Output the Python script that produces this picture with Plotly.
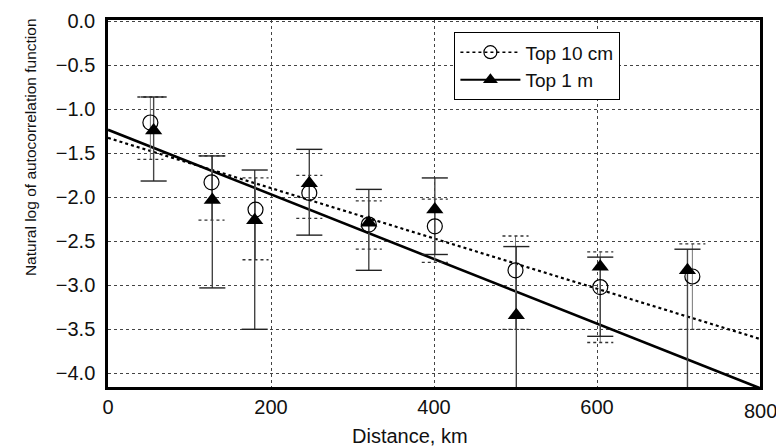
import plotly.graph_objects as go

# ---- data ----
dist_10cm = [52, 127, 181, 247, 320, 401, 500, 604, 717]
ln_10cm = [-1.15, -1.83, -2.14, -1.95, -2.31, -2.33, -2.83, -3.02, -2.90]
hi_10cm = [-0.86, -1.53, -1.78, -1.75, -2.04, -2.02, -2.44, -2.62, -2.53]
lo_10cm = [-1.57, -2.26, -2.71, -2.24, -2.59, -2.74, -3.50, -3.65, -3.50]

dist_1m = [56, 128, 180, 247, 320, 401, 501, 604, 711]
ln_1m = [-1.24, -2.03, -2.26, -1.84, -2.29, -2.14, -3.34, -2.79, -2.83]
hi_1m = [-0.86, -1.53, -1.69, -1.455, -1.91, -1.78, -2.56, -2.68, -2.59]
lo_1m = [-1.815, -3.03, -3.50, -2.43, -2.83, -2.65, -4.60, -3.58, -4.60]

fit_x = [0, 800]
fit_10cm = [-1.325, -3.61]
fit_1m = [-1.233, -4.17]

x_ticks = [0, 200, 400, 600, 800]
y_ticks = [0.0, -0.5, -1.0, -1.5, -2.0, -2.5, -3.0, -3.5, -4.0]

CAP = 16  # half cap width, km

fig = go.Figure()

# trend lines
fig.add_trace(go.Scatter(x=fit_x, y=fit_10cm, mode="lines",
                         line=dict(color="black", width=2.2, dash="dot"),
                         showlegend=False, hoverinfo="skip"))
fig.add_trace(go.Scatter(x=fit_x, y=fit_1m, mode="lines",
                         line=dict(color="black", width=2.6),
                         showlegend=False, hoverinfo="skip"))

# 10 cm error bars: thin grey stems with dotted caps
stem_x, stem_y, cap_x, cap_y = [], [], [], []
for xv, h, l in zip(dist_10cm, hi_10cm, lo_10cm):
    stem_x += [xv, xv, None]
    stem_y += [h, l, None]
    cap_x += [xv - CAP, xv + CAP, None, xv - CAP, xv + CAP, None]
    cap_y += [h, h, None, l, l, None]
fig.add_trace(go.Scatter(x=stem_x, y=stem_y, mode="lines",
                         line=dict(color="#777", width=1),
                         showlegend=False, hoverinfo="skip"))
fig.add_trace(go.Scatter(x=cap_x, y=cap_y, mode="lines",
                         line=dict(color="#333", width=1.3, dash="dot"),
                         showlegend=False, hoverinfo="skip"))

# 1 m error bars: solid stems and caps
stem_x, stem_y, cap_x, cap_y = [], [], [], []
for xv, h, l in zip(dist_1m, hi_1m, lo_1m):
    stem_x += [xv, xv, None]
    stem_y += [h, l, None]
    cap_x += [xv - CAP, xv + CAP, None, xv - CAP, xv + CAP, None]
    cap_y += [h, h, None, l, l, None]
fig.add_trace(go.Scatter(x=stem_x, y=stem_y, mode="lines",
                         line=dict(color="#444", width=1.4),
                         showlegend=False, hoverinfo="skip"))
fig.add_trace(go.Scatter(x=cap_x, y=cap_y, mode="lines",
                         line=dict(color="#222", width=1.4),
                         showlegend=False, hoverinfo="skip"))

# points
fig.add_trace(go.Scatter(x=dist_10cm, y=ln_10cm, mode="markers",
                         marker=dict(symbol="circle-open", size=15,
                                     color="black", line=dict(width=1.2)),
                         showlegend=False))
fig.add_trace(go.Scatter(x=dist_1m, y=ln_1m, mode="markers",
                         marker=dict(symbol="triangle-up", size=15, color="black"),
                         showlegend=False))

# legend entries
fig.add_trace(go.Scatter(x=[None], y=[None], mode="lines+markers", name="Top 10 cm",
                         line=dict(color="black", width=1.5, dash="dot"),
                         marker=dict(symbol="circle-open", size=13, color="black",
                                     line=dict(width=1.2))))
fig.add_trace(go.Scatter(x=[None], y=[None], mode="lines+markers", name="Top 1 m",
                         line=dict(color="black", width=2),
                         marker=dict(symbol="triangle-up", size=13, color="black")))

font_family = "Liberation Sans, Arial, sans-serif"

# the last x tick label sits on the page edge (partly cut off, as in the
# reference), so it is drawn as an annotation at x=800 on the axis scale
annotations = [
    dict(text="Natural log of autocorrelation function", textangle=-90,
         xref="paper", yref="paper", x=-0.134, y=0.654,
         showarrow=False, font=dict(size=15.5, color="#111")),
    dict(text="Distance, km", xref="paper", yref="paper",
         x=0.463, y=-0.133, yanchor="middle", showarrow=False,
         font=dict(size=20, color="#111")),
    dict(text=str(x_ticks[-1]), xref="x", yref="paper", x=x_ticks[-1], y=0,
         yanchor="top", xanchor="center", yshift=-11, showarrow=False,
         font=dict(size=20, color="#111")),
]

fig.update_layout(
    width=776, height=448,
    margin=dict(l=108, r=16, t=20, b=61),
    paper_bgcolor="white", plot_bgcolor="white",
    font=dict(family=font_family, size=20, color="#111"),
    showlegend=True,
    legend=dict(x=0.531, y=0.967, xanchor="left", yanchor="top",
                bgcolor="white", bordercolor="black", borderwidth=1.2,
                font=dict(size=19, color="#111"), itemwidth=60,
                tracegroupgap=0),
    xaxis=dict(range=[0, 800], tickvals=x_ticks[:-1],
               ticktext=[str(v) for v in x_ticks[:-1]],
               showgrid=True, gridcolor="#444", griddash="dot", gridwidth=1,
               showline=True, linecolor="black", linewidth=2.5, mirror=True,
               ticks="", zeroline=False, tickfont=dict(size=20), automargin=False),
    yaxis=dict(range=[-4.156, 0.015], tickvals=y_ticks,
               tickformat=".1f",
               showgrid=True, gridcolor="#444", griddash="dot", gridwidth=1,
               showline=True, linecolor="black", linewidth=2.5, mirror=True,
               ticks="outside", ticklen=6, tickcolor="rgba(0,0,0,0)",
               zeroline=False, tickfont=dict(size=20), automargin=False),
    annotations=annotations,
)

fig.write_html("out.html")
